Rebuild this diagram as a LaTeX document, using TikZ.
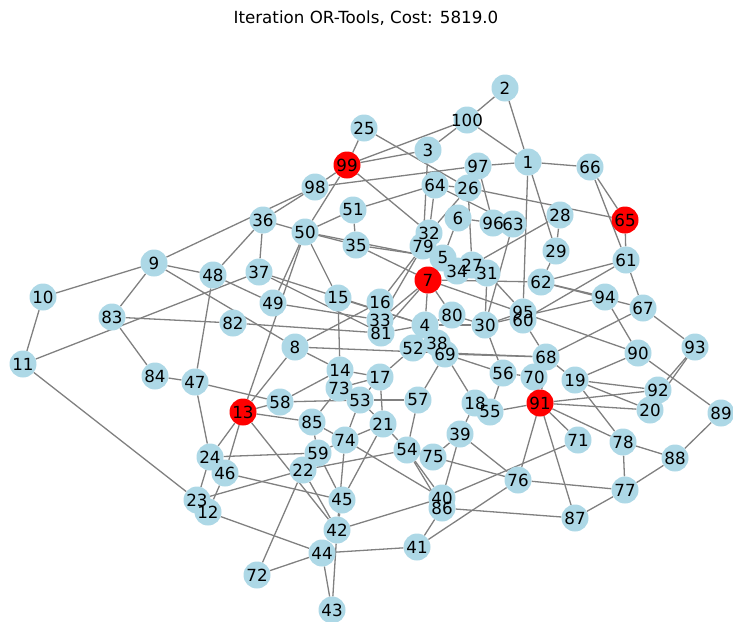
\documentclass[tikz,border=0pt]{standalone}
\usepackage{fontspec}
\setmainfont{DejaVu Sans}
\usetikzlibrary{backgrounds}
\definecolor{nodeblue}{HTML}{ADD8E6}
\definecolor{edgegray}{HTML}{808080}
\tikzset{
  vtx/.style={circle,fill=nodeblue,minimum size=27pt,inner sep=0pt},
  depot/.style={fill=red},
  lbl/.style={inner sep=0pt,font=\fontsize{16.7}{17}\selectfont},
  edge/.style={draw=edgegray,line width=1.3pt}
}
\begin{document}
\begin{tikzpicture}[x=1pt,y=-1pt]
	\useasboundingbox (0,0) rectangle (733,621);
	\node[lbl] (title) at (366,18) {Iteration OR-Tools, Cost: 5819.0};
	% vertices
	\node[vtx] (n1) at (528,162) {};
	\node[vtx] (n2) at (505,88) {};
	\node[vtx] (n3) at (428,150) {};
	\node[vtx] (n4) at (425,325) {};
	\node[vtx] (n5) at (443,258) {};
	\node[vtx] (n6) at (458,218) {};
	\node[vtx,depot] (n7) at (428,280) {};
	\node[vtx] (n8) at (295,347) {};
	\node[vtx] (n9) at (154,263) {};
	\node[vtx] (n10) at (43,297) {};
	\node[vtx] (n11) at (23,364) {};
	\node[vtx] (n12) at (208,512) {};
	\node[vtx,depot] (n13) at (243,412) {};
	\node[vtx] (n14) at (340,370) {};
	\node[vtx] (n15) at (338,298) {};
	\node[vtx] (n16) at (380,302) {};
	\node[vtx] (n17) at (380,377) {};
	\node[vtx] (n18) at (475,403) {};
	\node[vtx] (n19) at (575,380) {};
	\node[vtx] (n20) at (650,410) {};
	\node[vtx] (n21) at (383,424) {};
	\node[vtx] (n22) at (303,470) {};
	\node[vtx] (n23) at (197,500) {};
	\node[vtx] (n24) at (210,457) {};
	\node[vtx] (n25) at (364,128) {};
	\node[vtx] (n26) at (468,188) {};
	\node[vtx] (n27) at (472,265) {};
	\node[vtx] (n28) at (560,215) {};
	\node[vtx] (n29) at (556,251) {};
	\node[vtx] (n30) at (485,325) {};
	\node[vtx] (n31) at (487,273) {};
	\node[vtx] (n32) at (429,233) {};
	\node[vtx] (n33) at (380,320) {};
	\node[vtx] (n34) at (457,271) {};
	\node[vtx] (n35) at (356,245) {};
	\node[vtx] (n36) at (263,220) {};
	\node[vtx] (n37) at (259,272) {};
	\node[vtx] (n38) at (437,343) {};
	\node[vtx] (n39) at (460,434) {};
	\node[vtx] (n40) at (442,498) {};
	\node[vtx] (n41) at (417,547) {};
	\node[vtx] (n42) at (337,530) {};
	\node[vtx] (n43) at (332,610) {};
	\node[vtx] (n44) at (322,553) {};
	\node[vtx] (n45) at (342,500) {};
	\node[vtx] (n46) at (225,473) {};
	\node[vtx] (n47) at (195,382) {};
	\node[vtx] (n48) at (213,275) {};
	\node[vtx] (n49) at (273,303) {};
	\node[vtx] (n50) at (305,232) {};
	\node[vtx] (n51) at (353,210) {};
	\node[vtx] (n52) at (413,348) {};
	\node[vtx] (n53) at (360,400) {};
	\node[vtx] (n54) at (407,450) {};
	\node[vtx] (n55) at (490,412) {};
	\node[vtx] (n56) at (503,373) {};
	\node[vtx] (n57) at (418,400) {};
	\node[vtx] (n58) at (280,402) {};
	\node[vtx] (n59) at (318,453) {};
	\node[vtx] (n60) at (523,320) {};
	\node[vtx] (n61) at (626,260) {};
	\node[vtx] (n62) at (541,282) {};
	\node[vtx] (n63) at (513,224) {};
	\node[vtx] (n64) at (435,185) {};
	\node[vtx,depot] (n65) at (625,220) {};
	\node[vtx] (n66) at (590,167) {};
	\node[vtx] (n67) at (643,308) {};
	\node[vtx] (n68) at (546,357) {};
	\node[vtx] (n69) at (445,354) {};
	\node[vtx] (n70) at (534,377) {};
	\node[vtx] (n71) at (578,440) {};
	\node[vtx] (n72) at (257,575) {};
	\node[vtx] (n73) at (339,388) {};
	\node[vtx] (n74) at (345,440) {};
	\node[vtx] (n75) at (433,457) {};
	\node[vtx] (n76) at (518,480) {};
	\node[vtx] (n77) at (625,490) {};
	\node[vtx] (n78) at (623,442) {};
	\node[vtx] (n79) at (423,246) {};
	\node[vtx] (n80) at (452,315) {};
	\node[vtx] (n81) at (381,333) {};
	\node[vtx] (n82) at (233,323) {};
	\node[vtx] (n83) at (112,317) {};
	\node[vtx] (n84) at (155,376) {};
	\node[vtx] (n85) at (312,422) {};
	\node[vtx] (n86) at (442,508) {};
	\node[vtx] (n87) at (575,518) {};
	\node[vtx] (n88) at (675,458) {};
	\node[vtx] (n89) at (721,413) {};
	\node[vtx] (n90) at (638,353) {};
	\node[vtx,depot] (n91) at (540,403) {};
	\node[vtx] (n92) at (658,390) {};
	\node[vtx] (n93) at (695,347) {};
	\node[vtx] (n94) at (605,297) {};
	\node[vtx] (n95) at (523,312) {};
	\node[vtx] (n96) at (493,223) {};
	\node[vtx] (n97) at (478,166) {};
	\node[vtx] (n98) at (315,187) {};
	\node[vtx,depot] (n99) at (347,165) {};
	\node[vtx] (n100) at (467,120) {};
	% numbers on top of all circles
	\foreach \i in {1,...,100}
		\node[lbl] (t\i) at (n\i) {\i};
	% edges
	\begin{pgfonlayer}{background}
	\draw[edge] (n2)--(n100); \draw[edge] (n2)--(n1); \draw[edge] (n100)--(n1); \draw[edge] (n100)--(n3); \draw[edge] (n100)--(n99);
	\draw[edge] (n25)--(n99); \draw[edge] (n25)--(n26); \draw[edge] (n3)--(n99); \draw[edge] (n3)--(n79); \draw[edge] (n64)--(n32);
	\draw[edge] (n99)--(n98); \draw[edge] (n99)--(n50); \draw[edge] (n99)--(n32);
	\draw[edge] (n98)--(n97); \draw[edge] (n98)--(n9); \draw[edge] (n98)--(n36);
	\draw[edge] (n97)--(n1); \draw[edge] (n97)--(n96); \draw[edge] (n1)--(n66); \draw[edge] (n1)--(n29); \draw[edge] (n1)--(n95);
	\draw[edge] (n66)--(n65); \draw[edge] (n66)--(n61); \draw[edge] (n65)--(n61); \draw[edge] (n26)--(n65); \draw[edge] (n28)--(n29); \draw[edge] (n28)--(n27);
	\draw[edge] (n51)--(n50); \draw[edge] (n51)--(n64); \draw[edge] (n51)--(n35); \draw[edge] (n64)--(n26); \draw[edge] (n64)--(n63);
	\draw[edge] (n26)--(n32); \draw[edge] (n26)--(n27); \draw[edge] (n6)--(n5); \draw[edge] (n6)--(n96); \draw[edge] (n63)--(n30);
	\draw[edge] (n36)--(n50); \draw[edge] (n36)--(n48); \draw[edge] (n36)--(n37);
	\draw[edge] (n9)--(n10); \draw[edge] (n10)--(n11); \draw[edge] (n9)--(n83); \draw[edge] (n83)--(n84); \draw[edge] (n11)--(n37); \draw[edge] (n11)--(n23);
	\draw[edge] (n9)--(n48); \draw[edge] (n9)--(n8); \draw[edge] (n83)--(n82); \draw[edge] (n82)--(n81);
	\draw[edge] (n48)--(n47); \draw[edge] (n48)--(n49); \draw[edge] (n84)--(n47); \draw[edge] (n47)--(n58); \draw[edge] (n47)--(n24);
	\draw[edge] (n13)--(n58); \draw[edge] (n13)--(n85); \draw[edge] (n13)--(n8); \draw[edge] (n13)--(n24); \draw[edge] (n13)--(n46); \draw[edge] (n13)--(n42); \draw[edge] (n13)--(n50);
	\draw[edge] (n24)--(n59); \draw[edge] (n24)--(n23); \draw[edge] (n46)--(n12); \draw[edge] (n46)--(n45); \draw[edge] (n23)--(n22); \draw[edge] (n12)--(n44);
	\draw[edge] (n22)--(n72); \draw[edge] (n72)--(n44); \draw[edge] (n44)--(n43); \draw[edge] (n42)--(n43); \draw[edge] (n44)--(n41); \draw[edge] (n22)--(n42);
	\draw[edge] (n59)--(n45); \draw[edge] (n45)--(n42); \draw[edge] (n74)--(n42); \draw[edge] (n59)--(n74); \draw[edge] (n85)--(n59);
	\draw[edge] (n39)--(n40); \draw[edge] (n39)--(n76); \draw[edge] (n76)--(n91); \draw[edge] (n76)--(n77); \draw[edge] (n40)--(n71); \draw[edge] (n86)--(n87);
	\draw[edge] (n41)--(n76); \draw[edge] (n41)--(n86); \draw[edge] (n40)--(n42);
	\draw[edge] (n91)--(n87); \draw[edge] (n91)--(n78); \draw[edge] (n19)--(n78); \draw[edge] (n78)--(n88); \draw[edge] (n78)--(n77); \draw[edge] (n77)--(n88); \draw[edge] (n88)--(n89); \draw[edge] (n77)--(n87);
	\draw[edge] (n61)--(n67); \draw[edge] (n61)--(n62); \draw[edge] (n61)--(n60); \draw[edge] (n62)--(n94); \draw[edge] (n62)--(n67); \draw[edge] (n94)--(n90); \draw[edge] (n94)--(n30);
	\draw[edge] (n67)--(n93); \draw[edge] (n67)--(n68); \draw[edge] (n7)--(n90); \draw[edge] (n90)--(n89); \draw[edge] (n90)--(n19);
	\draw[edge] (n93)--(n92); \draw[edge] (n93)--(n20); \draw[edge] (n19)--(n92); \draw[edge] (n19)--(n20); \draw[edge] (n91)--(n92); \draw[edge] (n91)--(n20); \draw[edge] (n68)--(n19); \draw[edge] (n91)--(n71);
	\draw[edge] (n50)--(n49); \draw[edge] (n50)--(n15); \draw[edge] (n37)--(n4); \draw[edge] (n37)--(n81); \draw[edge] (n49)--(n33); \draw[edge] (n8)--(n16); \draw[edge] (n8)--(n14); \draw[edge] (n8)--(n68);
	\draw[edge] (n15)--(n14); \draw[edge] (n85)--(n73); \draw[edge] (n75)--(n76); \draw[edge] (n54)--(n40); \draw[edge] (n54)--(n86);
	\draw[edge] (n50)--(n35); \draw[edge] (n50)--(n27); \draw[edge] (n35)--(n7); \draw[edge] (n35)--(n5); \draw[edge] (n79)--(n16); \draw[edge] (n79)--(n33);
	\draw[edge] (n5)--(n34); \draw[edge] (n34)--(n27); \draw[edge] (n27)--(n31);
	\draw[edge] (n7)--(n4); \draw[edge] (n7)--(n80); \draw[edge] (n7)--(n81); \draw[edge] (n7)--(n33); \draw[edge] (n7)--(n62);
	\draw[edge] (n15)--(n4); \draw[edge] (n4)--(n80); \draw[edge] (n4)--(n30); \draw[edge] (n4)--(n38); \draw[edge] (n4)--(n52); \draw[edge] (n52)--(n17);
	\draw[edge] (n38)--(n69); \draw[edge] (n69)--(n57); \draw[edge] (n69)--(n18); \draw[edge] (n69)--(n56); \draw[edge] (n69)--(n68);
	\draw[edge] (n80)--(n30); \draw[edge] (n30)--(n56); \draw[edge] (n30)--(n95); \draw[edge] (n30)--(n31);
	\draw[edge] (n17)--(n14); \draw[edge] (n17)--(n73); \draw[edge] (n17)--(n53); \draw[edge] (n17)--(n21); \draw[edge] (n14)--(n73); \draw[edge] (n73)--(n53);
	\draw[edge] (n53)--(n21); \draw[edge] (n53)--(n57); \draw[edge] (n53)--(n74); \draw[edge] (n21)--(n74); \draw[edge] (n21)--(n54);
	\draw[edge] (n57)--(n54); \draw[edge] (n56)--(n70); \draw[edge] (n56)--(n55); \draw[edge] (n55)--(n18); \draw[edge] (n18)--(n39); \draw[edge] (n70)--(n91);
	\draw[edge] (n70)--(n68); \draw[edge] (n68)--(n91); \draw[edge] (n55)--(n91); \draw[edge] (n85)--(n74); \draw[edge] (n58)--(n14); \draw[edge] (n58)--(n53);
	\draw[edge] (n54)--(n75); \draw[edge] (n75)--(n39); \draw[edge] (n74)--(n40); \draw[edge] (n45)--(n21); \draw[edge] (n22)--(n54);
	\draw[edge] (n16)--(n33); \draw[edge] (n81)--(n4); \draw[edge] (n29)--(n62); \draw[edge] (n31)--(n95); \draw[edge] (n60)--(n68);
	\end{pgfonlayer}
\end{tikzpicture}
\end{document}
